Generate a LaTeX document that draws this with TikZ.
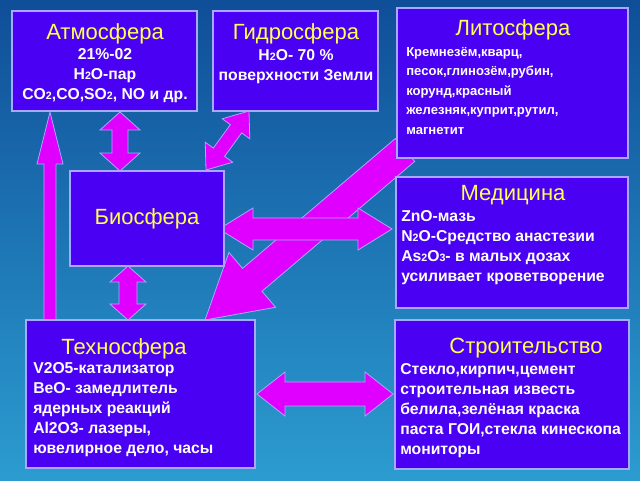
\documentclass[tikz,border=0pt]{standalone}
\usepackage{fontspec}
\setmainfont{Liberation Sans}
\definecolor{bgtop}{HTML}{0F4E98}
\definecolor{bgbot}{HTML}{2C9CD0}
\definecolor{boxfill}{HTML}{4A00F2}
\definecolor{boxline}{HTML}{A8A8FF}
\definecolor{arrfill}{HTML}{E000FF}
\definecolor{ttl}{HTML}{FFFF55}
\newcommand\dblarr[7]{%
 \pgfmathsetmacro\ang{atan2(-(#4-#2),#3-#1)}%
 \pgfmathsetmacro\len{veclen(#3-#1,#4-#2)}%
 \begin{scope}[shift={(#1,#2)},rotate=\ang]
 \draw[arrst] (0,0) -- (#7,#6) -- (#7,#5) -- (\len-#7,#5) -- (\len-#7,#6) -- (\len,0) -- (\len-#7,-#6) -- (\len-#7,-#5) -- (#7,-#5) -- (#7,-#6) -- cycle;
 \end{scope}}
\newcommand\sglarr[7]{%
 \pgfmathsetmacro\ang{atan2(-(#4-#2),#3-#1)}%
 \pgfmathsetmacro\len{veclen(#3-#1,#4-#2)}%
 \begin{scope}[shift={(#1,#2)},rotate=\ang]
 \draw[arrst] (0,#5) -- (\len-#7,#5) -- (\len-#7,#6) -- (\len,0) -- (\len-#7,-#6) -- (\len-#7,-#5) -- (0,-#5) -- cycle;
 \end{scope}}
\newcommand\smsub[1]{{\fontsize{8}{8}\selectfont #1}}
\begin{document}
\begin{tikzpicture}[x=0.75pt,y=-0.75pt,
 arrst/.style={fill=arrfill,draw=boxline,line width=0.6pt,line join=miter},
 boxst/.style={fill=boxfill,draw=boxline,line width=0.8pt},
 ttlst/.style={text=ttl,font=\fontsize{16.5}{18}\selectfont,inner sep=0},
 bodyc/.style={text=white,font=\bfseries\fontsize{11.8}{15}\selectfont,align=center,inner sep=0,anchor=north},
 bodyl/.style={text=white,font=\bfseries\fontsize{11.8}{15}\selectfont,align=left,inner sep=0,anchor=north west}]
\shade[top color=bgtop,bottom color=bgbot] (0,0) rectangle (640,480);
\useasboundingbox (0,0) rectangle (640,480);
% arrows
\sglarr{50}{322}{50}{112}{6}{13}{52}
\dblarr{120}{112}{120}{171}{8}{20}{18}
\dblarr{249}{111}{206}{170}{7}{17}{22}
\sglarr{405}{150}{205}{320}{15}{36}{62}
\dblarr{219}{229}{392}{229}{11}{21}{34}
\dblarr{128}{266}{128}{320}{9}{18}{16}
\dblarr{257}{394}{393}{394}{12}{22}{28}
% boxes
\draw[boxst] (12,11) rectangle (197,111);
\draw[boxst] (213,11) rectangle (378,111);
\draw[boxst] (397,8) rectangle (628,158);
\draw[boxst] (70,171) rectangle (224,266);
\draw[boxst] (396,177) rectangle (628,308);
\draw[boxst] (26,320) rectangle (255,468);
\draw[boxst] (395,320) rectangle (629,469);
% texts
\node[ttlst] (atmT) at (105,34) {Атмосфера};
\node[bodyc] (atmB) at (105,48) {21\%-02\\H\smsub{2}O-пар\\CO\smsub{2},CO,SO\smsub{2}, NO и др.};
\node[ttlst] (hydT) at (296,34) {Гидросфера};
\node[bodyc] (hydB) at (296,49) {H\smsub{2}O- 70 \%\\поверхности Земли};
\node[ttlst] (litT) at (513,30) {Литосфера};
\node[bodyl,font=\bfseries\fontsize{9.8}{14.6}\selectfont] (litB) at (406,47) {Кремнезём,кварц,\\песок,глинозём,рубин,\\корунд,красный\\железняк,куприт,рутил,\\магнетит};
\node[ttlst] (bioT) at (147,219) {Биосфера};
\node[ttlst] (medT) at (513,195) {Медицина};
\node[bodyl] (medB) at (401,210) {ZnO-мазь\\N\smsub{2}O-Средство анастезии\\As\smsub{2}O\smsub{3}- в малых дозах\\усиливает кроветворение};
\node[ttlst] (tecT) at (124,349) {Техносфера};
\node[bodyl] (tecB) at (33,362) {V2O5-катализатор\\BeO- замедлитель\\ядерных реакций\\Al2O3- лазеры,\\ювелирное дело, часы};
\node[ttlst] (strT) at (526,348) {Строительство};
\node[bodyl] (strB) at (400,363) {Стекло,кирпич,цемент\\строительная известь\\белила,зелёная краска\\паста ГОИ,стекла кинескопа\\мониторы};
\end{tikzpicture}
\end{document}
